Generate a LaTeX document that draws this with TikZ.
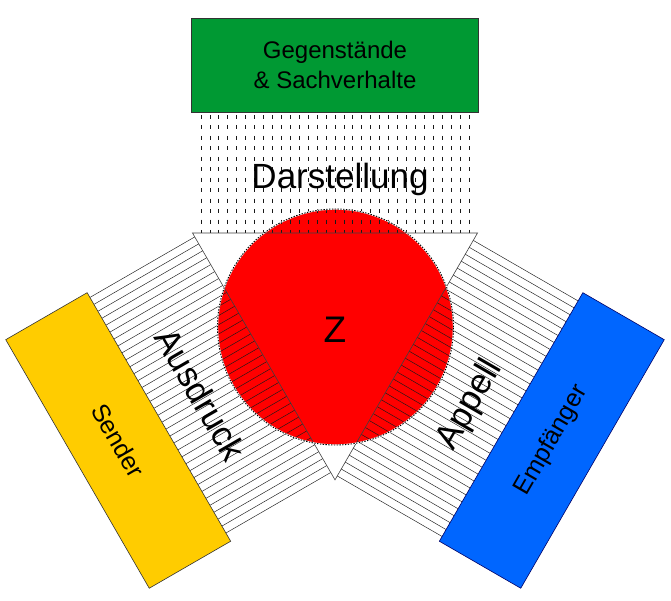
\documentclass[tikz,border=0pt]{standalone}
\usepackage{fontspec}
\setmainfont{Liberation Sans}
\definecolor{bgreen}{RGB}{0,153,51}
\definecolor{byellow}{RGB}{255,204,0}
\definecolor{bblue}{RGB}{0,102,255}
\definecolor{bred}{RGB}{255,0,0}
\begin{document}
\begin{tikzpicture}[x=1pt,y=1pt,
  box/.style={draw=black!80, line width=0.6pt, minimum width=287pt, minimum height=94pt, inner sep=0pt, font=\fontsize{25}{30}\selectfont, align=center},
  hatchline/.style={draw=black!90, line width=0.45pt},
  dashline/.style={draw=black!90, line width=0.8pt, dash pattern=on 4pt off 6.45pt, dash phase=7.45pt},
  biglabel/.style={font=\fontsize{35}{40}\selectfont, inner sep=0pt},
]
\useasboundingbox (0,-600) rectangle (671,0);
\begin{scope}[shift={(335,-315.3)}]
 \coordinate (C) at (0,0);
 \coordinate (T1) at (-142.5,82.27);
 \coordinate (T2) at (142.5,82.27);
 \coordinate (T3) at (0,-164.54);
 \coordinate (M) at (0.5,-11.7);
 \fill[bred] (M) circle (118);
 % top band (Darstellung)
 \foreach \k in {0,...,30} \draw[dashline] ({-134+8.933*\k},203.3) -- ++(0,-121.03);
 % side bands (Ausdruck, Appell)
 \foreach \r in {120,-120} {
  \begin{scope}[rotate=\r]
   \foreach \k in {0,...,34} \draw[hatchline] ({-134+8.0*\k},82.27) -- ++(0,121.03);
  \end{scope}
 }
 \draw[black!75, line width=0.6pt] (T1) -- (T2) -- (T3) -- cycle;
 \draw[white, line width=1.4pt] (M) circle (118);
 \draw[black, line width=0.9pt, dash pattern=on 1.4pt off 1.4pt] (M) circle (118);
 \node[box, fill=bgreen, font=\fontsize{24}{30}\selectfont] (gs) at (0,250.3) {Gegenstände\\\& Sachverhalte};
 \node[box, fill=byellow, rotate=-60] (sender) at (-216.8,-125.15) {Sender};
 \node[box, fill=bblue, draw=black!60!blue, rotate=60] (empf) at (216.8,-125.15) {Empfänger};
 \node[biglabel] (dar) at (5,136.3) {Darstellung};
 \node[biglabel, rotate=-60] (aus) at (-134,-78.7) {Ausdruck};
 \node[biglabel, rotate=60] (app) at (135,-89.7) {Appell};
 \node[font=\fontsize{37}{40}\selectfont, inner sep=0pt] (z) at (0,-14.7) {Z};
\end{scope}
\end{tikzpicture}
\end{document}
